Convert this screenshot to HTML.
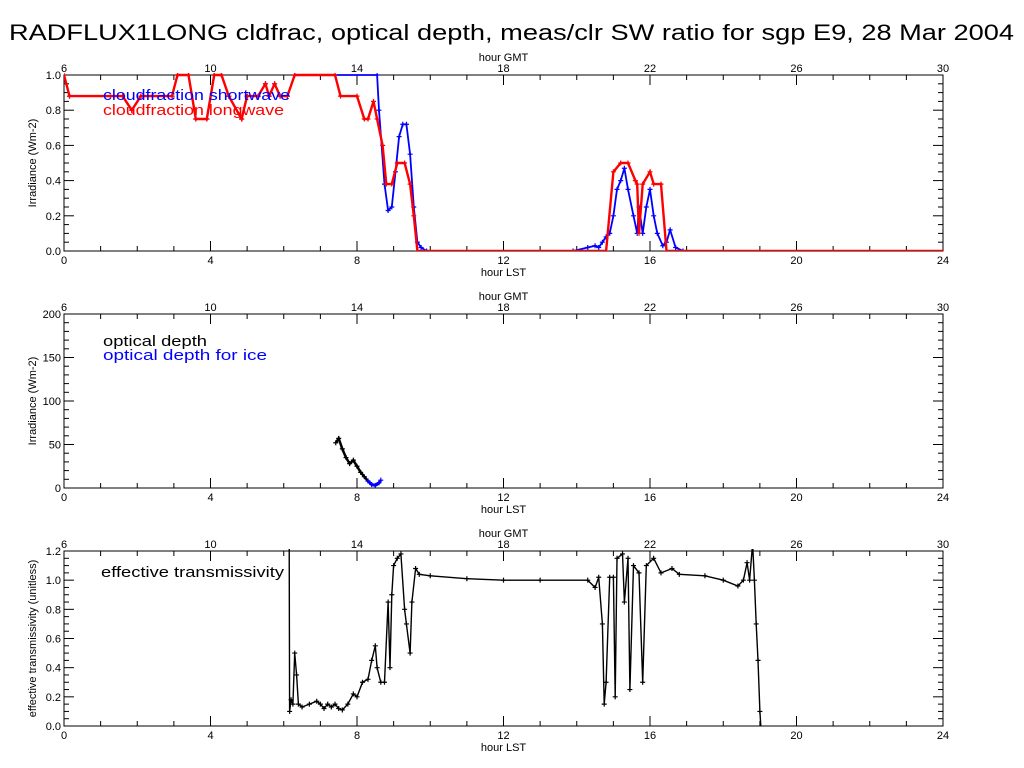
<!DOCTYPE html>
<html><head><meta charset="utf-8"><style>
body{margin:0;background:#fff;}
svg{display:block;font-family:"Liberation Sans",sans-serif;}
</style></head><body>
<svg id="chart" width="1024" height="768" viewBox="0 0 1024 768">
<rect width="1024" height="768" fill="#fff"/>
<text x="9" y="40" font-size="22" textLength="1005" lengthAdjust="spacingAndGlyphs">RADFLUX1LONG cldfrac, optical depth, meas/clr SW ratio for sgp E9, 28 Mar 2004</text>
</svg>
<script>
// ---- data (hour LST, value) ----
const lwHours=[0,0.15,1.6,1.85,2.1,2.95,3.1,3.4,3.6,3.9,4.1,4.3,4.5,4.85,5.0,5.3,5.5,5.6,5.75,5.9,6.1,6.3,7.4,7.55,8.0,8.2,8.3,8.45,8.55,8.7,8.8,8.95,9.1,9.3,9.45,9.55,9.65,14.8,15.0,15.2,15.4,15.6,15.65,15.7,15.8,16.0,16.1,16.3,16.45,24];
const lwVals=[1.0,0.88,0.88,0.8,0.88,0.88,1.0,1.0,0.75,0.75,1.0,1.0,0.88,0.75,0.88,0.88,0.95,0.88,0.95,0.88,0.88,1.0,1.0,0.88,0.88,0.75,0.75,0.85,0.75,0.6,0.38,0.38,0.5,0.5,0.38,0.2,0,0,0.45,0.5,0.5,0.4,0.38,0.1,0.38,0.45,0.38,0.38,0,0];
const swHours=[0,0.15,1.6,1.85,2.1,2.95,3.1,3.4,3.6,3.9,4.1,4.3,4.5,4.85,5.0,5.3,5.5,5.6,5.75,5.9,6.1,6.3,8.55,8.6,8.75,8.85,8.95,9.05,9.15,9.25,9.35,9.45,9.55,9.65,9.75,9.9,13.9,14.3,14.5,14.6,14.7,14.8,14.9,15.0,15.1,15.2,15.3,15.4,15.55,15.65,15.7,15.8,15.9,16.0,16.1,16.2,16.35,16.45,16.55,16.7,16.9,24];
const swVals=[1.0,0.88,0.88,0.8,0.88,0.88,1.0,1.0,0.75,0.75,1.0,1.0,0.88,0.75,0.88,0.88,0.95,0.88,0.95,0.88,0.88,1.0,1.0,0.8,0.38,0.23,0.25,0.45,0.65,0.72,0.72,0.55,0.25,0.05,0.02,0,0,0.02,0.03,0.02,0.05,0.08,0.1,0.2,0.35,0.4,0.47,0.35,0.2,0.1,0.25,0.1,0.25,0.35,0.2,0.1,0.03,0.05,0.12,0.02,0,0];
const odHours=[7.42,7.5,7.6,7.7,7.8,7.9,8.0,8.1,8.2,8.3];
const odVals=[52,57,45,35,28,32,25,18,13,8];
const odIceHours=[8.3,8.4,8.5,8.6,8.65];
const odIceVals=[8,4,3,6,9];
const trHours=[6.15,6.16,6.2,6.25,6.3,6.35,6.4,6.5,6.7,6.9,7.0,7.1,7.2,7.3,7.4,7.5,7.6,7.75,7.9,8.0,8.15,8.3,8.4,8.5,8.55,8.65,8.75,8.85,8.9,8.95,9.0,9.1,9.2,9.3,9.35,9.45,9.5,9.6,9.7,10,11,12,13,14.3,14.5,14.6,14.7,14.75,14.8,14.9,15.0,15.05,15.1,15.25,15.3,15.4,15.45,15.55,15.7,15.8,15.9,16.1,16.3,16.6,16.8,17.5,18.0,18.4,18.55,18.65,18.72,18.8,18.85,18.9,18.95,19.0,19.05];
const trVals=[1.25,0.1,0.18,0.15,0.5,0.35,0.15,0.13,0.15,0.17,0.15,0.12,0.15,0.13,0.15,0.12,0.11,0.15,0.22,0.2,0.3,0.32,0.45,0.55,0.4,0.3,0.3,0.85,0.4,0.9,1.1,1.15,1.18,0.8,0.7,0.5,0.85,1.08,1.04,1.03,1.01,1.0,1.0,1.0,0.95,1.02,0.7,0.15,0.3,1.02,1.02,0.2,1.15,1.18,0.85,1.15,0.25,1.1,1.05,0.3,1.1,1.15,1.05,1.08,1.04,1.03,1.0,0.96,1.0,1.12,1.0,1.25,1.0,0.7,0.45,0.1,-0.1];
const xTicks=[0,4,8,12,16,20,24];
const gmtTicks=[6,10,14,18,22,26,30];

const NS='http://www.w3.org/2000/svg';
const svg=document.getElementById('chart');
function el(tag,attrs,parent){const e=document.createElementNS(NS,tag);for(const k in attrs)e.setAttribute(k,attrs[k]);(parent||svg).appendChild(e);return e;}
const X0=64,X1=943;
function xs(h){return X0+h*(X1-X0)/24;}
let clipId=0;

function panel(name,top,bot,ymax,ymajor,yminor,fmt,ytitle){
  const g=el('g',{});
  
  
  const ys=v=>bot-(v/ymax)*(bot-top);
  const frame=el('rect',{x:X0,y:top,width:X1-X0,height:bot-top,fill:'none',stroke:'#000','stroke-width':1},g);
  
  
  for(let h=0;h<=24;h+=1){
    const L=(h%4===0)?10:5,x=xs(h);
    el('line',{x1:x,y1:bot,x2:x,y2:bot-L,stroke:'#000'},g);
    el('line',{x1:x,y1:top,x2:x,y2:top+L,stroke:'#000'},g);
  }
  xTicks.forEach((t,i)=>{
    const tl=el('text',{x:xs(t),y:bot+13,'font-size':11,'text-anchor':'middle'},g);tl.textContent=t;
    
    
    const gl=el('text',{x:xs(t),y:top-3,'font-size':11,'text-anchor':'middle'},g);gl.textContent=gmtTicks[i];
    
    
  });
  const n=Math.round(ymax/yminor);
  for(let i=0;i<=n;i++){
    const v=i*yminor,y=ys(v),maj=Math.abs(v/ymajor-Math.round(v/ymajor))<1e-6,L=maj?10:5;
    el('line',{x1:X0,y1:y,x2:X0+L,y2:y,stroke:'#000'},g);
    el('line',{x1:X1,y1:y,x2:X1-L,y2:y,stroke:'#000'},g);
    if(maj){const t=el('text',{x:X0-3,y:y+4,'font-size':11,'text-anchor':'end'},g);t.textContent=fmt(v);
      
      }
  }
  const xt=el('text',{x:(X0+X1)/2,y:bot+25,'font-size':11,'text-anchor':'middle'},g);xt.textContent='hour LST';
  
  
  const gt=el('text',{x:(X0+X1)/2,y:top-14,'font-size':11,'text-anchor':'middle'},g);gt.textContent='hour GMT';
  
  
  const yt=el('text',{x:0,y:0,'font-size':11,'text-anchor':'middle',transform:`translate(36,${(top+bot)/2}) rotate(-90)`},g);yt.textContent=ytitle;
  
  
  return {g,ys,top,bot};
}
function series(p,hs,vs,color,name,w){
  clipId++;
  const cp=el('clipPath',{id:'c'+clipId},p.g);
  el('rect',{x:X0,y:p.top-2,width:X1-X0,height:p.bot-p.top+2},cp);
  const s=el('g',{'clip-path':`url(#c${clipId})`},p.g);
  
  
  const pts=hs.map((h,i)=>xs(h).toFixed(1)+','+p.ys(vs[i]).toFixed(1)).join(' ');
  el('polyline',{points:pts,fill:'none',stroke:color,'stroke-width':w},s);
  let d='';
  hs.forEach((h,i)=>{const x=xs(h),y=p.ys(vs[i]);d+=`M${x-2.5},${y}h5M${x},${y-2.5}v5`;});
  el('path',{d:d,stroke:color,'stroke-width':1.2,fill:'none'},s);
}
function label(x,y,txt,color,name,len){const t=el('text',{x:x,y:y,'font-size':15,fill:color,textLength:len,lengthAdjust:'spacingAndGlyphs'});t.textContent=txt;
  
  }

const p1=panel('cloudfraction-panel',75,251,1.0,0.2,0.05,v=>v.toFixed(1),'Irradiance (Wm-2)');
series(p1,swHours,swVals,'#0000ff','cloudfraction-shortwave-line',1.8);
series(p1,lwHours,lwVals,'#ff0000','cloudfraction-longwave-line',2.4);
label(103,100,'cloudfraction shortwave','#0000ff','legend-shortwave',187);
label(103,115,'cloudfraction longwave','#ff0000','legend-longwave',181);

const p2=panel('optical-depth-panel',314,488,200,50,10,v=>v.toFixed(0),'Irradiance (Wm-2)');
series(p2,odHours,odVals,'#000','optical-depth-line',2.5);
series(p2,odIceHours,odIceVals,'#0000ff','optical-depth-ice-line',3);
label(103,346,'optical depth','#000','legend-optical-depth',104);
label(103,360,'optical depth for ice','#0000ff','legend-optical-depth-ice',164);

const p3=panel('transmissivity-panel',551,726,1.2,0.2,0.05,v=>v.toFixed(1),'effective transmissivity (unitless)');
series(p3,trHours,trVals,'#000','transmissivity-line',1.4);
label(101,577,'effective transmissivity','#000','legend-transmissivity',183);
</script>
</body></html>
